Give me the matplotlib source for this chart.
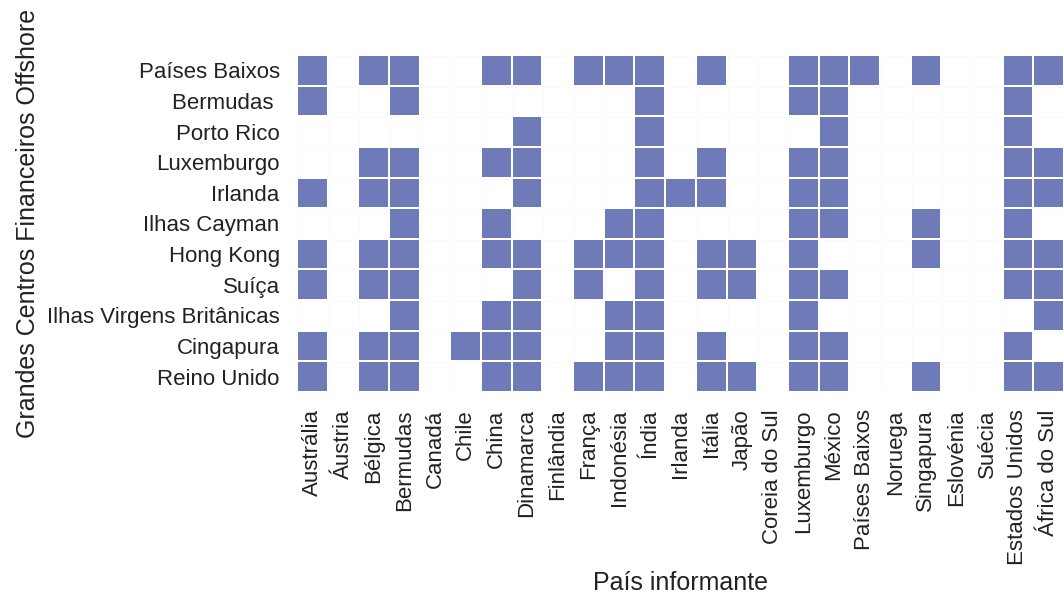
import matplotlib
matplotlib.use("Agg")
import matplotlib.pyplot as plt
import numpy as np

plt.rcParams['font.family'] = ['Liberation Sans', 'DejaVu Sans']

reporters = ["Austrália", "Áustria", "Bélgica", "Bermudas", "Canadá", "Chile", "China",
             "Dinamarca", "Finlândia", "França", "Indonésia", "Índia", "Irlanda", "Itália",
             "Japão", "Coreia do Sul", "Luxemburgo", "México", "Países Baixos", "Noruega",
             "Singapura", "Eslovénia", "Suécia", "Estados Unidos", "África do Sul"]

centers = ["Países Baixos", "Bermudas ", "Porto Rico", "Luxemburgo", "Irlanda",
           "Ilhas Cayman", "Hong Kong", "Suíça", "Ilhas Virgens Britânicas",
           "Cingapura", "Reino Unido"]

links = {
    "Países Baixos": ["Austrália", "Bélgica", "Bermudas", "China", "Dinamarca", "França",
                      "Indonésia", "Índia", "Itália", "Luxemburgo", "México", "Países Baixos",
                      "Singapura", "Estados Unidos", "África do Sul"],
    "Bermudas ": ["Austrália", "Bermudas", "Índia", "Luxemburgo", "México", "Estados Unidos"],
    "Porto Rico": ["Dinamarca", "Índia", "México", "Estados Unidos"],
    "Luxemburgo": ["Bélgica", "Bermudas", "China", "Dinamarca", "Índia", "Itália",
                   "Luxemburgo", "México", "Estados Unidos", "África do Sul"],
    "Irlanda": ["Austrália", "Bélgica", "Bermudas", "Dinamarca", "Índia", "Irlanda", "Itália",
                "Luxemburgo", "México", "Estados Unidos", "África do Sul"],
    "Ilhas Cayman": ["Bermudas", "China", "Indonésia", "Índia", "Luxemburgo", "México",
                     "Singapura", "Estados Unidos"],
    "Hong Kong": ["Austrália", "Bélgica", "Bermudas", "China", "Dinamarca", "França",
                  "Indonésia", "Índia", "Itália", "Japão", "Luxemburgo", "Singapura",
                  "Estados Unidos", "África do Sul"],
    "Suíça": ["Austrália", "Bélgica", "Bermudas", "Dinamarca", "França", "Índia", "Itália",
              "Japão", "Luxemburgo", "México", "Estados Unidos", "África do Sul"],
    "Ilhas Virgens Britânicas": ["Bermudas", "China", "Dinamarca", "Indonésia", "Índia",
                                 "Luxemburgo", "África do Sul"],
    "Cingapura": ["Austrália", "Bélgica", "Bermudas", "Chile", "China", "Dinamarca",
                  "Indonésia", "Índia", "Itália", "Luxemburgo", "México", "Estados Unidos"],
    "Reino Unido": ["Austrália", "Bélgica", "Bermudas", "China", "Dinamarca", "França",
                    "Indonésia", "Índia", "Itália", "Japão", "Luxemburgo", "México",
                    "Singapura", "Estados Unidos", "África do Sul"],
}

nx, ny = len(reporters), len(centers)
M = np.zeros((ny, nx))
for i, c in enumerate(centers):
    for r in links[c]:
        M[i, reporters.index(r)] = 1

W, H = 1064, 595
fig = plt.figure(figsize=(W/100, H/100), dpi=100)
ax = fig.add_axes([297/W, 1 - 392/H, (W-297)/W, (392-55)/H])

# light grid
for k in range(nx + 1):
    ax.axvline(k - 0.5, color='#e6e6e6', lw=1.0, zorder=1)
for k in range(ny + 1):
    ax.axhline(k - 0.5, color='#e6e6e6', lw=1.0, zorder=1)

masked = np.ma.masked_where(M == 0, M)
X = np.arange(nx + 1) - 0.5
Y = np.arange(ny + 1) - 0.5
ax.pcolormesh(X, Y, masked, cmap=matplotlib.colors.ListedColormap(['#6f7ab8']),
              edgecolors='white', linewidth=1.2, zorder=2)

ax.set_xlim(-0.5, nx - 0.5)
ax.set_ylim(ny - 0.5, -0.5)
ax.set_xticks(range(nx))
ax.set_xticklabels(reporters, rotation=90, fontsize=16, color='#222222')
ax.set_yticks(range(ny))
ax.set_yticklabels(centers, fontsize=16, color='#222222')
ax.tick_params(length=0, pad=12.5)
for s in ax.spines.values():
    s.set_visible(False)

ax.set_xlabel("País informante", fontsize=18, color='#222222')
ax.xaxis.set_label_coords(0.5, -(583 - 392) / (392 - 55), transform=ax.transAxes)
ax.xaxis.label.set_va('center')
ax.set_ylabel("Grandes Centros Financeiros Offshore", fontsize=18, color='#222222')
ax.yaxis.set_label_coords(-(297 - 28) / (W - 297), 0.5, transform=ax.transAxes)
ax.yaxis.label.set_va('center')

fig.savefig("out.png", dpi=100)
